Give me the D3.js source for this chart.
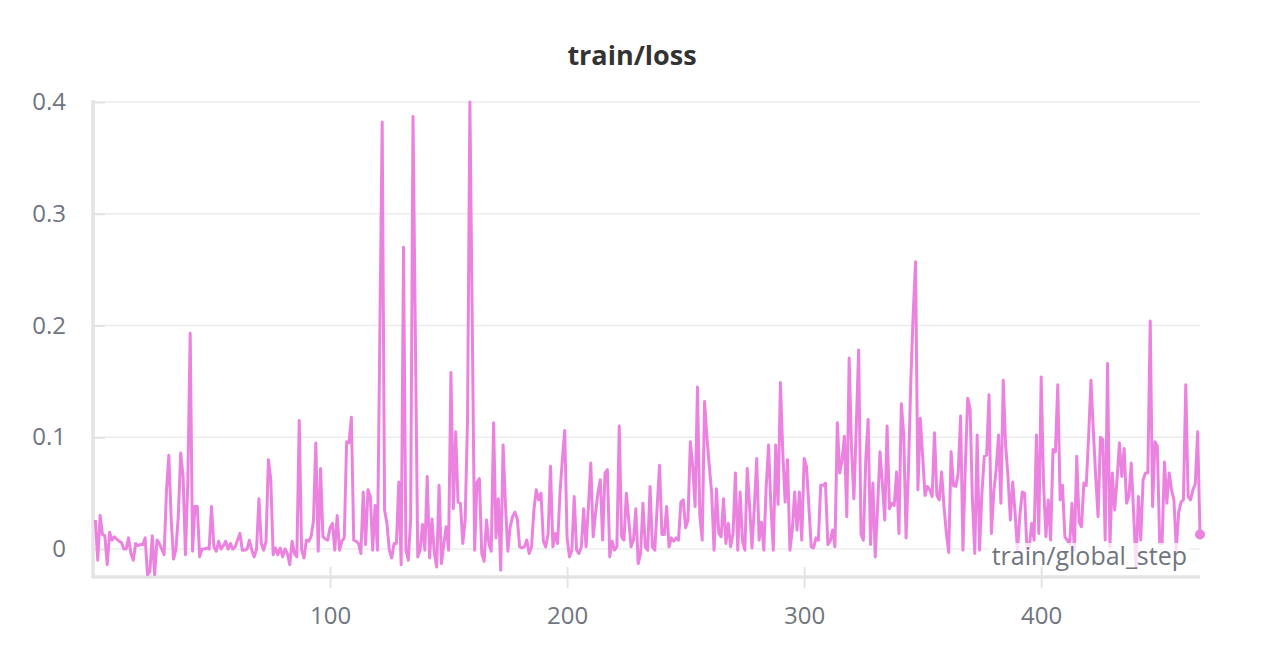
<!DOCTYPE html>
<html>
<head>
<meta charset="utf-8">
<script src="https://cdn.jsdelivr.net/npm/d3@7"></script>
<style>
  body { margin: 0; background: #fff; }
</style>
</head>
<body>
<div class="canva"></div>
<script>
// chart texts and ticks
const chartTitle = "train/loss";
const xTitle = "train/global_step";
const xTicks = [100, 200, 300, 400];
const yTicks = [0, 0.1, 0.2, 0.3, 0.4];
const yTickLabels = ["0", "0.1", "0.2", "0.3", "0.4"];

// loss per global step (steps 1..467)
const loss = [
  0.026,-0.010,0.030,0.013,0.012,-0.014,0.015,0.008,0.011,0.009,
  0.007,0.006,0.000,0.000,0.010,-0.004,-0.010,0.005,0.003,0.004,
  0.004,0.010,-0.023,-0.020,0.012,-0.023,0.008,0.005,0.000,-0.005,
  0.052,0.084,0.026,-0.009,0.000,0.030,0.086,0.065,-0.005,0.060,
  0.193,-0.002,0.038,0.038,-0.007,0.000,0.000,0.001,0.000,0.038,
  0.002,-0.002,0.007,0.000,0.003,0.007,0.000,0.005,0.000,
  // 60-118
  0.002,0.008,0.014,-0.001,-0.001,0.000,0.008,-0.001,-0.007,0.000,
  0.045,0.005,-0.001,0.007,0.080,0.062,-0.005,0.001,-0.005,0.001,
  -0.007,0.000,-0.004,-0.014,0.007,-0.004,-0.007,0.115,-0.001,-0.008,
  0.008,0.007,0.011,0.025,0.095,-0.002,0.072,0.011,0.009,0.008,
  0.019,0.023,-0.001,0.030,-0.001,0.007,0.010,0.096,0.095,0.118,
  0.008,0.007,0.005,-0.004,0.051,0.004,0.053,0.047,-0.001,
  // 119-175
  0.039,-0.001,0.190,0.382,0.035,0.023,-0.001,-0.008,0.005,0.005,
  0.060,-0.014,0.270,-0.001,-0.010,0.026,0.387,0.190,-0.007,-0.001,
  0.022,-0.001,0.065,-0.008,0.027,-0.004,-0.016,0.057,-0.013,0.005,
  0.020,-0.001,0.158,0.036,0.105,0.042,0.041,0.005,0.026,0.115,
  0.400,0.200,-0.001,0.060,0.063,-0.004,-0.011,0.026,0.005,-0.002,
  0.113,0.010,0.045,-0.019,0.093,0.040,-0.002,
  // 176-236
  0.020,0.029,0.033,0.027,0.002,0.001,0.002,0.008,-0.004,0.002,
  0.035,0.053,0.044,0.050,0.007,0.002,0.014,0.074,0.002,0.014,
  0.005,0.050,0.080,0.106,0.010,-0.007,-0.001,0.047,-0.001,-0.004,
  0.002,0.036,0.002,0.038,0.077,0.011,0.032,0.050,0.062,0.008,
  0.068,0.071,-0.007,0.007,-0.001,0.002,0.110,0.011,0.008,0.050,
  0.026,0.002,0.008,0.036,-0.013,-0.004,0.041,0.002,-0.001,0.056,
  0.002,
  // 237-295
  -0.001,0.038,0.075,0.013,0.013,0.038,0.002,0.010,0.007,0.010,
  0.008,0.042,0.044,0.019,0.026,0.096,0.074,0.038,0.145,0.030,
  0.008,0.132,0.100,0.074,0.050,-0.001,0.054,0.014,0.011,0.045,
  0.005,0.023,0.002,0.014,0.068,-0.001,0.051,0.007,-0.001,0.072,
  0.038,0.001,0.038,0.081,0.008,0.024,-0.001,0.056,0.093,0.038,
  -0.001,0.093,0.040,0.149,0.086,0.042,0.080,-0.001,0.017,
  // 296-354
  0.051,0.017,0.051,0.008,0.081,0.074,0.038,0.002,0.001,0.010,
  0.008,0.057,0.057,0.059,0.004,0.007,0.017,0.002,0.113,0.068,
  0.080,0.101,0.029,0.171,0.089,0.045,0.110,0.178,0.013,0.008,
  0.080,0.116,0.004,0.059,-0.007,0.038,0.087,0.059,0.026,0.110,
  0.036,0.041,0.039,0.069,0.014,0.130,0.103,0.010,0.070,0.150,
  0.210,0.257,0.053,0.117,0.083,0.048,0.056,0.053,0.047,
  // 355-413
  0.104,0.048,0.044,0.069,0.038,0.014,-0.003,0.087,0.057,0.056,
  0.068,0.119,-0.001,0.074,0.135,0.126,0.044,-0.004,0.102,-0.001,
  0.050,0.083,0.084,0.138,0.014,0.051,0.071,0.102,0.041,0.151,
  0.093,0.065,0.026,0.060,0.032,-0.001,0.030,0.051,0.050,-0.001,
  0.002,0.023,0.008,0.102,0.014,0.154,0.059,0.011,0.044,0.008,
  0.089,0.087,0.147,0.044,0.057,0.011,0.008,0.004,0.041,
  // 414-467
  -0.001,0.083,0.024,0.020,0.059,0.057,0.100,0.151,0.106,0.065,
  0.029,0.100,0.098,0.008,0.166,0.002,0.068,0.035,0.062,0.095,
  0.065,0.090,0.041,0.047,0.077,0.032,-0.016,0.047,0.008,0.062,
  0.068,0.068,0.204,0.038,0.096,0.092,0.005,0.005,0.078,0.041,
  0.068,0.053,0.044,-0.001,0.033,0.042,0.044,0.147,0.047,0.044,
  0.053,0.058,0.105,0.013
];
const steps = loss.map((d, i) => i + 1);

const lineColor = "#ec82e0";
const tickColor = "#70757e";
const font = "'Open Sans', 'Noto Sans', sans-serif";

const width = 1264, height = 664;
const plotLeft = 93, plotRight = 1200, plotTop = 102, plotBottom = 577;

const svg = d3.select(".canva").append("svg")
  .attr("width", width)
  .attr("height", height);

// scales
const x = d3.scaleLinear().domain([0, 467]).range([plotLeft, plotRight]);
const y = d3.scaleLinear().domain([-0.025, 0.4]).range([plotBottom, plotTop]);

// gridlines
svg.append("g")
  .selectAll("line")
  .data(yTicks)
  .enter().append("line")
  .attr("x1", plotLeft)
  .attr("x2", plotRight)
  .attr("y1", d => y(d))
  .attr("y2", d => y(d))
  .attr("stroke", "#ececec")
  .attr("stroke-width", 1.5);

// y axis
const yAxis = svg.append("g")
  .attr("transform", `translate(${plotLeft},0)`)
  .call(d3.axisLeft(y).tickValues(yTicks).tickFormat((d, i) => yTickLabels[i]).tickSize(11).tickPadding(16));
yAxis.select(".domain").remove();
yAxis.selectAll(".tick line").attr("x2", 12).attr("stroke", "#e4e4e4").attr("stroke-width", 2);
yAxis.selectAll(".tick text")
  .attr("fill", tickColor)
  .attr("font-family", font)
  .attr("font-size", 24);
yAxis.append("line")
  .attr("x1", 0).attr("x2", 0)
  .attr("y1", plotTop - 2).attr("y2", plotBottom + 1)
  .attr("stroke", "#e4e4e4")
  .attr("stroke-width", 3.5);

// x axis
const xAxis = svg.append("g")
  .attr("transform", `translate(0,${plotBottom})`)
  .call(d3.axisBottom(x).tickValues(xTicks).tickFormat(d3.format("d")).tickSize(11).tickPadding(19));
xAxis.select(".domain").remove();
xAxis.selectAll(".tick line").attr("y1", -10).attr("stroke", "#e4e4e4").attr("stroke-width", 2);
xAxis.selectAll(".tick text")
  .attr("fill", tickColor)
  .attr("font-family", font)
  .attr("font-size", 24);
xAxis.append("line")
  .attr("x1", plotLeft).attr("x2", plotRight)
  .attr("y1", 0).attr("y2", 0)
  .attr("stroke", "#e4e4e4")
  .attr("stroke-width", 3.5);

// loss line
const line = d3.line()
  .x((d, i) => x(steps[i]))
  .y(d => y(d));

svg.append("path")
  .datum(loss)
  .attr("d", line)
  .attr("fill", "none")
  .attr("stroke", lineColor)
  .attr("stroke-width", 3)
  .attr("stroke-linejoin", "round");

// end point dot
svg.append("circle")
  .attr("cx", x(steps[steps.length - 1]))
  .attr("cy", y(loss[loss.length - 1]))
  .attr("r", 5)
  .attr("fill", lineColor);

// x axis title, inside the plot at bottom right, on a light backing
const xt = svg.append("text")
  .text(xTitle)
  .attr("x", 1187)
  .attr("y", 565)
  .attr("text-anchor", "end")
  .attr("font-family", font)
  .attr("font-size", 25)
  .attr("fill", tickColor);
const bb = xt.node().getBBox();
svg.append("rect")
  .attr("x", bb.x - 3).attr("y", bb.y + 5)
  .attr("width", bb.width + 6).attr("height", bb.height - 10)
  .attr("fill", "#fff").attr("opacity", 0.75);
xt.raise();

// title
svg.append("text")
  .text(chartTitle)
  .attr("x", 632)
  .attr("y", 65)
  .attr("text-anchor", "middle")
  .attr("font-family", font)
  .attr("font-size", 27)
  .attr("font-weight", "bold")
  .attr("fill", "#333");
</script>
</body>
</html>
